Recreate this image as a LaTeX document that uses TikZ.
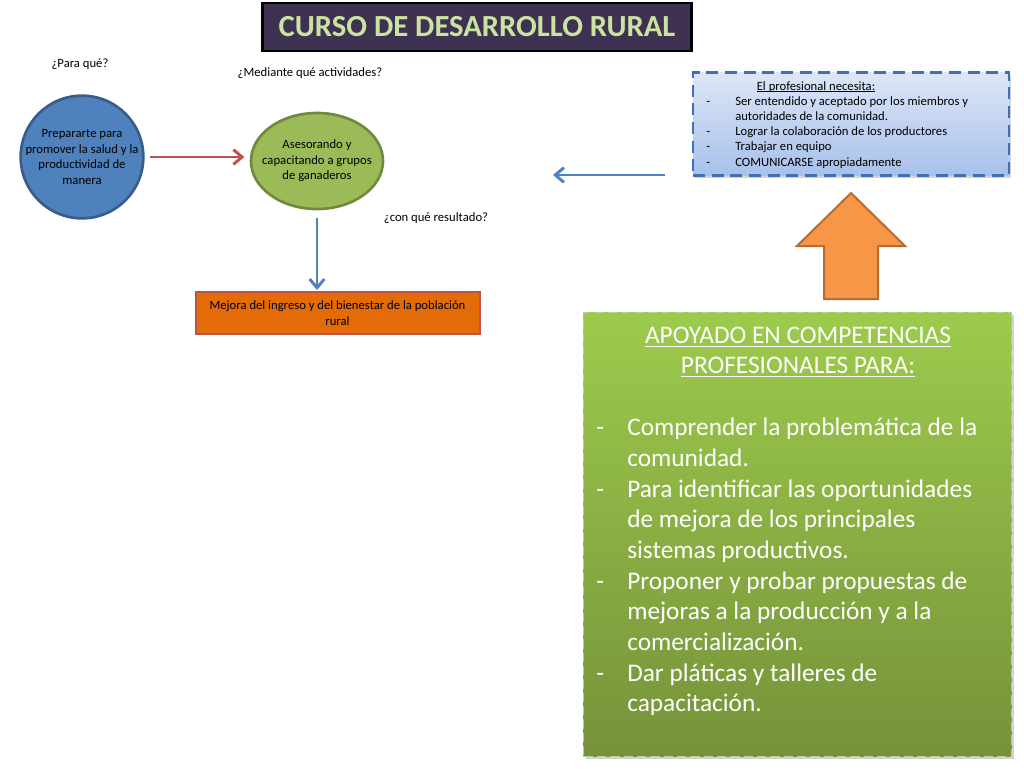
\documentclass[tikz,border=0pt]{standalone}
\usepackage{fontspec}
\setmainfont{Carlito}
\usetikzlibrary{arrows.meta,shadows,shapes.geometric}
\definecolor{titlebg}{HTML}{3F3151}
\definecolor{titletext}{HTML}{CBE3A0}
\definecolor{oblue}{HTML}{4F81BD}
\definecolor{oblueb}{HTML}{385D8A}
\definecolor{ogreen}{HTML}{9BBB59}
\definecolor{ogreenb}{HTML}{71893F}
\definecolor{ored}{HTML}{C0504D}
\definecolor{oorange}{HTML}{E36C09}
\definecolor{lorange}{HTML}{F79646}
\definecolor{lorangeb}{HTML}{B66D31}
\definecolor{boxtop}{HTML}{DCE6F8}
\definecolor{boxbot}{HTML}{A8C0EA}
\definecolor{boxdash}{HTML}{3E70B5}
\definecolor{gtop}{HTML}{9CCB4C}
\definecolor{gbot}{HTML}{76923A}
\definecolor{gdash}{HTML}{B8CFA0}
\newlength\ulwd
\newcommand{\ulx}[1]{\settowidth{\ulwd}{#1}\rlap{\rule[-0.15em]{\ulwd}{0.06em}}#1}
\begin{document}
\begin{tikzpicture}[x=0.75pt,y=-0.75pt,
  small/.style={font=\fontsize{9.5}{11.6}\selectfont},
  smallline/.style={small,inner sep=0pt,text height=8.5pt,text depth=2.2pt},
  bigline/.style={font=\fontsize{19}{23}\selectfont,text=white,inner sep=0pt,text height=17pt,text depth=4.4pt},
  redarrow/.style={draw=ored,line width=2.2pt,-{Straight Barb[length=6.5pt,width=11pt]}},
  bluearrow/.style={draw=oblue,line width=2.2pt,-{Straight Barb[length=6.5pt,width=11pt]}},
  softshadow/.style={drop shadow={opacity=0.35,shadow xshift=1.5pt,shadow yshift=-2pt}}]
\useasboundingbox (0,0) rectangle (1024,768);
\fill[white] (0,0) rectangle (1024,768);

% title
\node[draw=black,line width=2.2pt,fill=titlebg,minimum width=322pt,minimum height=36pt,inner sep=0pt,
  text=titletext,font=\fontsize{23}{27}\bfseries\selectfont] (title) at (477,27) {CURSO DE DESARROLLO RURAL};

% questions
\node[small] (q1) at (80,64) {¿Para qué?};
\node[small] (q2) at (310,73) {¿Mediante qué actividades?};
\node[small] (q3) at (436,218) {¿con qué resultado?};

% circle and ellipse
\node[ellipse,draw=oblueb,line width=2pt,fill=oblue,minimum width=92pt,minimum height=92pt,inner sep=0pt,
  label={[small,align=center]center:Prepararte para\\promover la salud y la\\productividad de\\manera}] (goal) at (82,157) {};
\node[ellipse,draw=ogreenb,line width=2pt,fill=ogreen,minimum width=99pt,minimum height=72pt,inner sep=0pt,
  label={[small,align=center]center:Asesorando y\\capacitando a grupos\\de ganaderos}] (act) at (317,161) {};

% result
\node[draw=ored,line width=1.5pt,fill=oorange,minimum width=213pt,minimum height=31pt,inner sep=0pt,
  align=center,small] (res) at (337.5,313) {Mejora del ingreso y del bienestar de la población\\rural};

\draw[redarrow,shorten <=4pt,shorten >=4pt] (goal.east) -- (goal.east -| act.west);
\draw[bluearrow,shorten <=6pt,shorten >=1pt] (act.south) -- (act.south |- res.north);

% top right box
\node[draw=boxdash,line width=2.2pt,dash pattern=on 9pt off 5pt,top color=boxtop,bottom color=boxbot,
  minimum width=237pt,minimum height=77pt,softshadow] (need) at (851,124) {};
\node[smallline] (nh) at (816,86) {\ulx{El profesional necesita:}};
\foreach \y/\t [count=\i] in {101/Ser entendido y aceptado por los miembros y,116/autoridades de la comunidad.,131/Lograr la colaboración de los productores,146/Trabajar en equipo,162/COMUNICARSE apropiadamente}
  {\node[smallline,anchor=west] (n\i) at (735,\y) {\t};}
\foreach \y [count=\i] in {101,131,146,162}
  {\node[smallline,anchor=west] (nd\i) at (706,\y) {-};}

\coordinate (la) at (665,175);
\coordinate (lb) at (553,175);
\draw[bluearrow] (la) -- (lb);

% orange block arrow
\draw[draw=lorangeb,line width=1.5pt,fill=lorange,line join=miter]
  (824,299) -- (824,246) -- (797,246) -- (851,193) -- (905,246) -- (878,246) -- (878,299) -- cycle;

% big green box
\node[draw=gdash,line width=1.2pt,dash pattern=on 7pt off 3pt,top color=gtop,bottom color=gbot,
  minimum width=321pt,minimum height=333pt,softshadow] (comp) at (797.5,534.5) {};
\node[bigline] (h1) at (798,335) {\ulx{APOYADO EN COMPETENCIAS}};
\node[bigline] (h2) at (798,365) {\ulx{PROFESIONALES PARA:}};
\foreach \y/\t [count=\i] in {427/Comprender la problemática de la,458/comunidad.,489/Para identificar las oportunidades,519/de mejora de los principales,550/sistemas productivos.,581/Proponer y probar propuestas de,611/mejoras a la producción y a la,642/comercialización.,673/Dar pláticas y talleres de,703/capacitación.}
  {\node[bigline,anchor=west] (c\i) at (627,\y) {\t};}
\foreach \y [count=\i] in {427,489,581,673}
  {\node[bigline,anchor=west] (cd\i) at (596,\y) {-};}
\end{tikzpicture}
\end{document}
